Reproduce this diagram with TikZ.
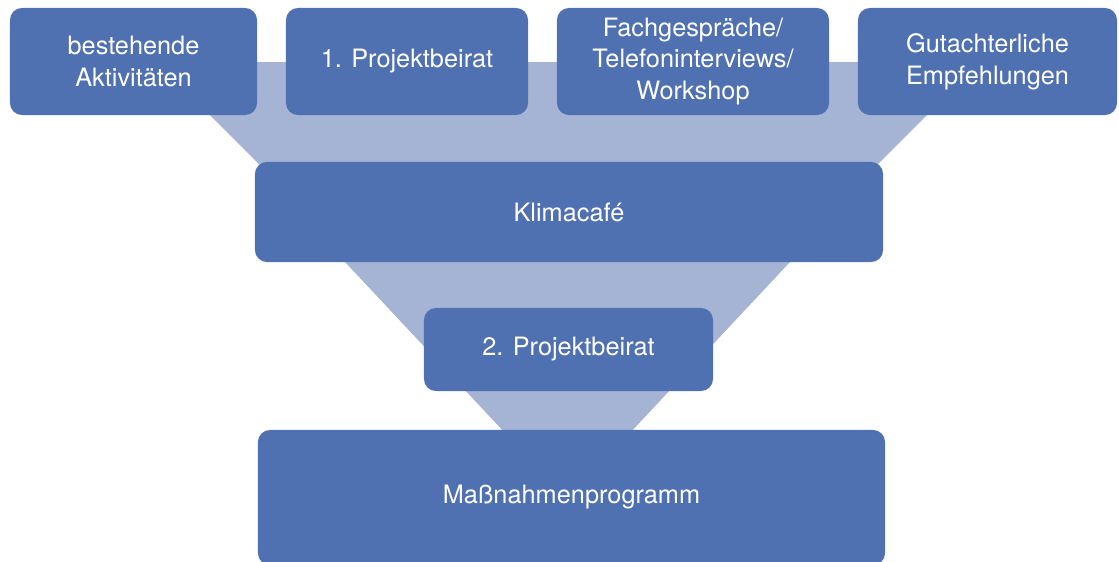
\documentclass[tikz,border=0pt]{standalone}
\usepackage{fontspec}
\setmainfont{TeX Gyre Heros}
\definecolor{boxblue}{RGB}{79,112,177}
\definecolor{funnelblue}{RGB}{165,180,212}
\tikzset{
  stage/.style={rectangle,rounded corners=0.3cm,fill=boxblue,text=white,
    align=center,inner sep=0pt,font=\fontsize{18}{22.7}\selectfont},
  funnel/.style={fill=funnelblue}
}
\begin{document}
\begin{tikzpicture}[x=0.025cm,y=-0.025cm]
  \useasboundingbox (0,0) rectangle (1119,561);

  % funnels behind the boxes
  \fill[funnel] (157,62) -- (980,62) -- (862,180) -- (275,180) -- cycle;
  \fill[funnel] (345,262) -- (790,262) -- (614,450) -- (521,450) -- cycle;

  % top row
  \node[stage,minimum width=6.175cm,minimum height=2.675cm] (akt) at (133.5,61.5) {bestehende\\Aktivitäten};
  \node[stage,minimum width=6.05cm,minimum height=2.675cm] (pb1) at (407,61.5) {1. Projektbeirat};
  \node[stage,minimum width=6.8cm,minimum height=2.675cm] (fach) at (693,61.5) {Fachgespräche/\\Telefoninterviews/\\Workshop};
  \node[stage,minimum width=6.475cm,minimum height=2.675cm] (gut) at (987.5,61.5) {Gutachterliche\\Empfehlungen};

  % lower stages
  \node[stage,minimum width=15.7cm,minimum height=2.5cm] (cafe) at (569,212) {Klimacafé};
  \node[stage,minimum width=7.225cm,minimum height=2.075cm] (pb2) at (568.5,349.5) {2. Projektbeirat};
  \node[stage,minimum width=15.675cm,minimum height=3.375cm] (prog) at (571.5,497.5) {Maßnahmenprogramm};

\end{tikzpicture}
\end{document}
